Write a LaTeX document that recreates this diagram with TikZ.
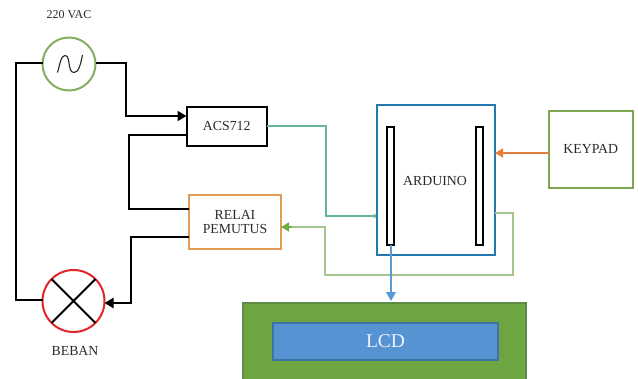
\documentclass[tikz,border=0pt]{standalone}
\usepackage{fontspec}
\setmainfont{Liberation Serif}
\usetikzlibrary{arrows.meta,calc}
\definecolor{gsrc}{HTML}{84AE62}
\definecolor{lampred}{HTML}{E0252B}
\definecolor{orel}{HTML}{E39A55}
\definecolor{ardblue}{HTML}{2478AE}
\definecolor{keygreen}{HTML}{7FA653}
\definecolor{lcdgreen}{HTML}{6DA540}
\definecolor{lcdedge}{HTML}{5C8C45}
\definecolor{lcdblue}{HTML}{5593D2}
\definecolor{lcdblueedge}{HTML}{3F73A5}
\definecolor{teal}{HTML}{63B5A0}
\definecolor{lgreen}{HTML}{A6C48F}
\definecolor{arrgreen}{HTML}{70AD47}
\definecolor{arrorange}{HTML}{E2803A}
\definecolor{arrblue}{HTML}{5B9BD5}
\definecolor{txt}{HTML}{2A2A2A}
\tikzset{
  blk/.style={draw=black,line width=2pt,inner sep=0pt,outer sep=0pt,fill=white,text=txt,font=\fontsize{13.8}{15}\selectfont,align=center},
  circ/.style={circle,fill=white,inner sep=0pt,outer sep=0pt},
  wire/.style={draw=black,line width=2pt,line join=miter},
  tipk/.style={-{Triangle[length=9pt,width=10pt]}},
  lab/.style={text=txt,inner sep=0pt}
}
\begin{document}
\begin{tikzpicture}[x=1pt,y=-1pt]
\clip (0,0) rectangle (638,378);
\fill[white] (0,0) rectangle (638,378);
% LCD
\node[blk,draw=lcdedge,fill=lcdgreen,anchor=north west,minimum width=283pt,minimum height=90pt] (lcdframe) at (243,302.5) {};
\node[blk,draw=lcdblueedge,fill=lcdblue,text=white!95!blue,minimum width=225pt,minimum height=37pt,font=\fontsize{19.5}{22}\selectfont] (lcd) at (385.5,341.5) {LCD};
% source and lamp
\node[circ,draw=gsrc,line width=2pt,minimum size=53pt] (src) at (69,64) {};
\node[lab,font=\fontsize{12}{14}\selectfont] (vac) at (69,15) {220 VAC};
\draw[black!85,line width=1.1pt] (57.5,72.5) .. controls (60,64) and (61,55.5) .. (65,55.5) .. controls (71,55.5) and (67,72.5) .. (74,72.5) .. controls (79,72.5) and (80.5,64) .. (82.5,55);
\node[circ,draw=lampred,line width=2pt,minimum size=62pt] (lamp) at (73.5,301) {};
\draw[black,line width=1.9pt] (lamp.45) -- (lamp.225) (lamp.135) -- (lamp.-45);
\node[lab,font=\fontsize{13.8}{15}\selectfont] (beban) at (75,350.5) {BEBAN};
% blocks
\node[blk,minimum width=80.5pt,minimum height=38.5pt] (acs) at (226.75,126.25) {\raisebox{-1pt}{ACS712}};
\node[blk,draw=orel,minimum width=92pt,minimum height=53.5pt] (rel) at (235,221.75) {RELAI\\[-1pt]PEMUTUS};
\node[blk,draw=ardblue,minimum width=118pt,minimum height=150pt] (ard) at (436,180) {};
\node[lab,font=\fontsize{13.8}{15}\selectfont] (ardt) at (435,181) {ARDUINO};
\node[blk,minimum width=7pt,minimum height=118pt] (pinl) at (390,185.5) {};
\node[blk,minimum width=7pt,minimum height=118pt] (pinr) at (479.5,185.5) {};
\node[blk,draw=keygreen,minimum width=83.5pt,minimum height=77.5pt] (key) at (590.75,149.25) {KEYPAD};
% black wires
\draw[wire] (src.west |- 0,63) -| (16,300) -- (lamp.west |- 0,300);
\draw[wire,tipk] (src.east |- 0,63) -| (126,116) -- (acs.west |- 0,116);
\draw[wire] (acs.west |- 0,135) -| (129,209) -- (rel.west |- 0,209);
\draw[wire,tipk] (rel.west |- 0,237) -| (131,303) -- (lamp.east |- 0,303);
% coloured links
\draw[teal,line width=1.5pt,-{Triangle[length=3pt,width=5pt]}] (acs.east |- 0,126) -| (326,216) -- (ard.west |- 0,216);
\draw[arrorange,line width=1.4pt,-{Triangle[length=8pt,width=9pt]}] (key.west |- 0,153) -- (ard.east |- 0,153);
\draw[lgreen,line width=1.4pt] (ard.east |- 0,213) -| (513,275) -| (325,227) -- (290,227);
\draw[arrgreen,line width=1.4pt,-{Triangle[length=8pt,width=9pt]}] (292,227) -- (rel.east |- 0,227);
\draw[arrblue,line width=1.3pt,-{Triangle[length=9pt,width=10pt]}] (pinl.south) ++(1,0) -- (391,301);
\end{tikzpicture}
\end{document}
